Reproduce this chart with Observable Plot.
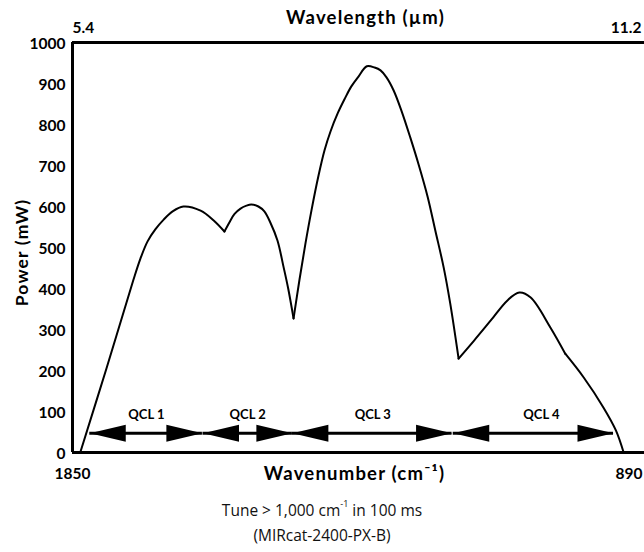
<!DOCTYPE html>
<html><head><meta charset="utf-8">
<script src="https://cdn.jsdelivr.net/npm/d3@7"></script>
<script src="https://cdn.jsdelivr.net/npm/@observablehq/plot@0.6"></script>
<style>
body{margin:0;background:#fff;}
#chart{width:644px;height:490px;}
#caption{font-family:"Open Sans",sans-serif;font-size:15.5px;color:#111;text-align:center;line-height:25px;margin-top:8px;width:644px;}
sup{font-size:9px;vertical-align:top;line-height:1;position:relative;top:1px;}
</style></head><body>
<div id="chart"></div>
<div id="caption">Tune &gt; 1,000 cm<sup>-1</sup> in 100 ms<br>(MIRcat-2400-PX-B)</div>
<script>
// Output power curve (wavenumber cm-1, power mW), split at the cusps
const wavenumber = [1837,1793,1748,1736,1724,1711,1697,1682,1664,1635,1613,1595,
                    1595,1586,1578,1568,1558,1550,1538,1528,1518,1506,1496,1488,1479,
                    1479,1469,1459,1449,1437,1427,1417,1405,1393,1382,1370,1356,1343,1333,1323,1311,1298,1283,1269,1254,1241,1227,1216,1202,
                    1202,1176,1148,1120,1100,1081,1048,1023,
                    1023,992,959,938,925];
const power      = [0,205,420,473,515,544,568,588,600,590,566,539,
                    539,563,582,595,602,605,600,588,561,517,454,400,327,
                    327,422,510,590,676,737,783,827,863,893,917,942,939,932,915,883,834,768,702,624,541,451,363,229,
                    229,273,322,371,390,378,305,241,
                    241,183,110,54,0];
const segment    = [1,1,1,1,1,1,1,1,1,1,1,1,
                    2,2,2,2,2,2,2,2,2,2,2,2,2,
                    3,3,3,3,3,3,3,3,3,3,3,3,3,3,3,3,3,3,3,3,3,3,3,3,
                    4,4,4,4,4,4,4,4,
                    5,5,5,5,5];

// QCL tuning ranges
const qclNames = ["QCL 1","QCL 2","QCL 3","QCL 4"];
const qclStart = [1821,1631,1481,1211];
const qclEnd   = [1632,1481,1213,942];
const qclLabelAt = [1726,1556,1346,1063];
const arrowPower = 47;
const labelPower = 92;

// Axes
const yTicks = [0,100,200,300,400,500,600,700,800,900,1000];
const xTickValues = [1850, 890];
const xTickLabels = ["1850", "890"];
const wavelengthLabels = ["5.4", "11.2"];
const titles = ["Wavelength (µm)", "Wavenumber (cm⁻¹)", "Power (mW)"];

const curve = wavenumber.map((w,i)=>({w, p: power[i], s: segment[i]}));
const qcl = qclNames.map((n,i)=>({name:n, start:qclStart[i], end:qclEnd[i], mid:qclLabelAt[i]}));
const heads = qcl.flatMap(d=>[{w:d.start, rot:180},{w:d.end, rot:0}]);

const headSymbol = {
  draw(ctx, size){
    ctx.moveTo(0,0);
    ctx.lineTo(-36,-8.5);
    ctx.lineTo(-36,8.5);
    ctx.closePath();
  }
};

const F = "Lato, 'DejaVu Sans', sans-serif";
const mid = {lineAnchor: "middle"};

const plot = Plot.plot({
  width: 644,
  height: 490,
  marginTop: 42,
  marginBottom: 38,
  marginLeft: 72,
  marginRight: 0,
  style: {fontFamily: F, fontWeight: "bold", color: "#000", background: "#fff"},
  x: {domain: [1850, 890], axis: null},
  y: {domain: [0, 1000], axis: null},
  marks: [
    Plot.axisY({ticks: yTicks, tickFormat: d => String(d), tickSize: 0, tickPadding: 7, fontSize: 15.5, fontWeight: "bold", label: null, dy: 2}),
    Plot.ruleY([0, 1000], {stroke: "#000", strokeWidth: 3}),
    Plot.ruleX([1850], {stroke: "#000", strokeWidth: 3}),
    Plot.line(curve, {x: "w", y: "p", z: "s", curve: "catmull-rom", stroke: "#000", strokeWidth: 2}),
    Plot.ruleY(qcl, {x1: "start", x2: "end", y: () => arrowPower, stroke: "#000", strokeWidth: 3}),
    Plot.dot(heads, {x: "w", y: () => arrowPower, rotate: "rot", symbol: headSymbol, fill: "#000", stroke: "none", r: 10}),
    Plot.text(qcl, {x: "mid", y: () => labelPower, text: "name", fontSize: 13, fontWeight: "bold"}),
    // bottom tick labels
    Plot.text([0], {...mid, x: () => xTickValues[0], text: () => xTickLabels[0], frameAnchor: "bottom", dy: 22, fontSize: 15.5}),
    Plot.text([0], {...mid, x: () => xTickValues[1], text: () => xTickLabels[1], frameAnchor: "bottom", dy: 22, dx: -2, textAnchor: "end", fontSize: 15.5}),
    // top wavelength labels
    Plot.text([0], {...mid, x: () => xTickValues[0], text: () => wavelengthLabels[0], frameAnchor: "top", dy: -14, textAnchor: "start", fontSize: 15.5}),
    Plot.text([0], {...mid, x: () => xTickValues[1], text: () => wavelengthLabels[1], frameAnchor: "top", dy: -14, dx: -3, textAnchor: "end", fontSize: 15.5}),
    // axis titles
    Plot.text([titles[0]], {...mid, text: d => d, frameAnchor: "top", dy: -24, dx: 7, fontSize: 18.5}),
    Plot.text([titles[1]], {...mid, text: d => d, frameAnchor: "bottom", dy: 22, dx: -4, fontSize: 18.5}),
    Plot.text([titles[2]], {...mid, textAnchor: "middle", text: d => d, frameAnchor: "left", dx: -50, dy: 5, rotate: -90, fontSize: 17.5})
  ]
});
d3.select(plot).selectAll("text")
  .filter(function(){ return titles.includes(this.textContent); })
  .attr("letter-spacing", "1.2px");
document.getElementById("chart").appendChild(plot);
</script>
</body></html>
